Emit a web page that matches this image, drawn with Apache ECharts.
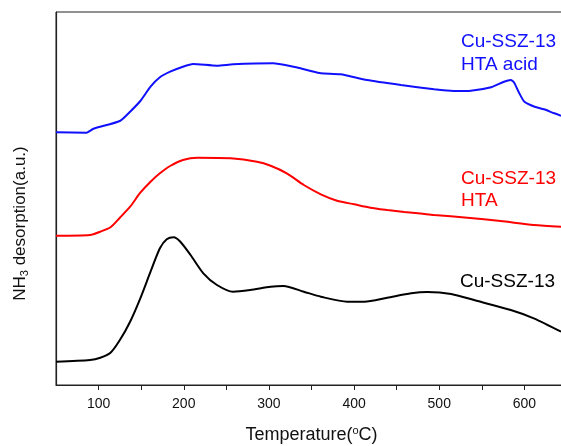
<!DOCTYPE html>
<html>
<head>
<meta charset="utf-8">
<script src="https://cdn.jsdelivr.net/npm/echarts@6/dist/echarts.min.js"></script>
<style>
  html, body { margin: 0; padding: 0; background: #fff; }
  #tpd { width: 561px; height: 446px; }
</style>
</head>
<body>
<div id="tpd"></div>
<script>
// NH3-TPD curves, [temperature (°C), signal (a.u., offset stacked)]
const cuSSZ13 = [
  [50, 23.3], [90, 25], [102, 27.3], [114, 32.3], [125, 45], [137, 63.3],
  [149, 86.7], [161, 113.3], [172, 136.7], [180, 145.7], [188, 147.7],
  [196, 143.3], [208, 130], [223, 111.7], [239, 100], [258, 93.3],
  [278, 95], [302, 98.3], [317, 99], [341, 93.3], [361, 88.3], [392, 83.3],
  [412, 83.3], [439, 87.3], [467, 91.7], [486, 93], [514, 91], [545, 84],
  [584, 75], [611, 66.7], [643, 53.3]
];
const cuSSZ13HTA = [
  [50, 149.3], [90, 150], [102, 153.3], [114, 157.7], [125, 167.3],
  [137, 178.3], [149, 192.3], [161, 203.3], [172, 211.7], [184, 219],
  [199, 225], [216, 227.3], [255, 226.7], [286, 223.3], [302, 219.3],
  [321, 211.7], [341, 200], [361, 190.7], [380, 184.3], [400, 180.7],
  [419, 177.3], [439, 175], [459, 173], [478, 171.5], [494, 170],
  [533, 167.3], [572, 164], [611, 160], [643, 158.3]
];
const cuSSZ13HTAacid = [
  [50, 252.7], [86, 252.3], [94, 256.3], [125, 264], [137, 273.3],
  [149, 284], [161, 298.3], [172, 307.7], [184, 313.3], [199, 318.3],
  [211, 321], [239, 319.3], [258, 320.7], [305, 321.7], [329, 318.3],
  [337, 316.7], [349, 314], [361, 311.7], [384, 310.7], [415, 305],
  [455, 300], [494, 295.7], [517, 294], [537, 294.3], [561, 297.7],
  [576, 303.3], [584, 305], [588, 302.3], [594, 291.7], [600, 283.3],
  [612, 278.3], [623, 275.7], [635, 271.7], [643, 269.3]
];
const xTicks = [100, 200, 300, 400, 500, 600];

const FONT = "Liberation Sans";

let chart = echarts.init(document.getElementById("tpd"));

let option = {
  animation: false,
  grid: {
    left: 56,
    right: -6,
    top: 12,
    bottom: 61,
    outerBoundsMode: "none",
    containLabel: false,
    show: true,
    borderColor: "#222",
    borderWidth: 1,
  },
  xAxis: {
    type: "value",
    min: 50,
    max: 650,
    interval: 50,
    name: "{t|Temperature(}{sup|o}{t|C)}",
    nameLocation: "middle",
    nameGap: 40,
    nameTextStyle: {
      rich: {
        t: { fontFamily: FONT, fontSize: 18, color: "#111", lineHeight: 20 },
        sup: { fontFamily: FONT, fontSize: 11, color: "#111", verticalAlign: "top", lineHeight: 12 },
      },
    },
    axisLine: { onZero: false, lineStyle: { color: "#222", width: 1.2 } },
    axisTick: { inside: false, length: 5, lineStyle: { color: "#222" } },
    axisLabel: {
      fontFamily: FONT,
      fontSize: 14,
      color: "#111",
      margin: 12,
      showMinLabel: false,
      showMaxLabel: false,
      formatter: function (v) {
        return xTicks.indexOf(v) >= 0 ? String(v) : "";
      },
    },
    splitLine: { show: false },
  },
  yAxis: {
    type: "value",
    min: 0,
    max: 373,
    name: "{t|NH}{sub|3}{t| desorption(a.u.)}",
    nameLocation: "middle",
    nameGap: 26,
    nameRotate: 90,
    nameTextStyle: {
      padding: [0, 50, 0, 0],
      rich: {
        t: { fontFamily: FONT, fontSize: 17, color: "#111", lineHeight: 20 },
        sub: { fontFamily: FONT, fontSize: 11, color: "#111", verticalAlign: "bottom", lineHeight: 12 },
      },
    },
    axisLine: { show: true, lineStyle: { color: "#222", width: 1.2 } },
    axisTick: { show: false },
    axisLabel: { show: false },
    splitLine: { show: false },
  },
  series: [
    {
      name: "Cu-SSZ-13",
      type: "line",
      data: cuSSZ13,
      smooth: 0.25,
      showSymbol: false,
      lineStyle: { color: "#000", width: 2 },
    },
    {
      name: "Cu-SSZ-13 HTA",
      type: "line",
      data: cuSSZ13HTA,
      smooth: 0.25,
      showSymbol: false,
      lineStyle: { color: "#ff0000", width: 2 },
    },
    {
      name: "Cu-SSZ-13 HTA acid",
      type: "line",
      data: cuSSZ13HTAacid,
      smooth: 0.2,
      showSymbol: false,
      lineStyle: { color: "#1010ff", width: 2 },
    },
  ],
  graphic: [
    { type: "text", left: 461, top: 30, style: { text: "Cu-SSZ-13\nHTA acid", fill: "#1010ff", font: "19px " + FONT, lineHeight: 23 } },
    { type: "text", left: 461, top: 168, style: { text: "Cu-SSZ-13\nHTA", fill: "#ff0000", font: "19px " + FONT, lineHeight: 22 } },
    { type: "text", left: 460, top: 272, style: { text: "Cu-SSZ-13", fill: "#000", font: "19px " + FONT } },
  ],
};

option && chart.setOption(option);
</script>
</body>
</html>
